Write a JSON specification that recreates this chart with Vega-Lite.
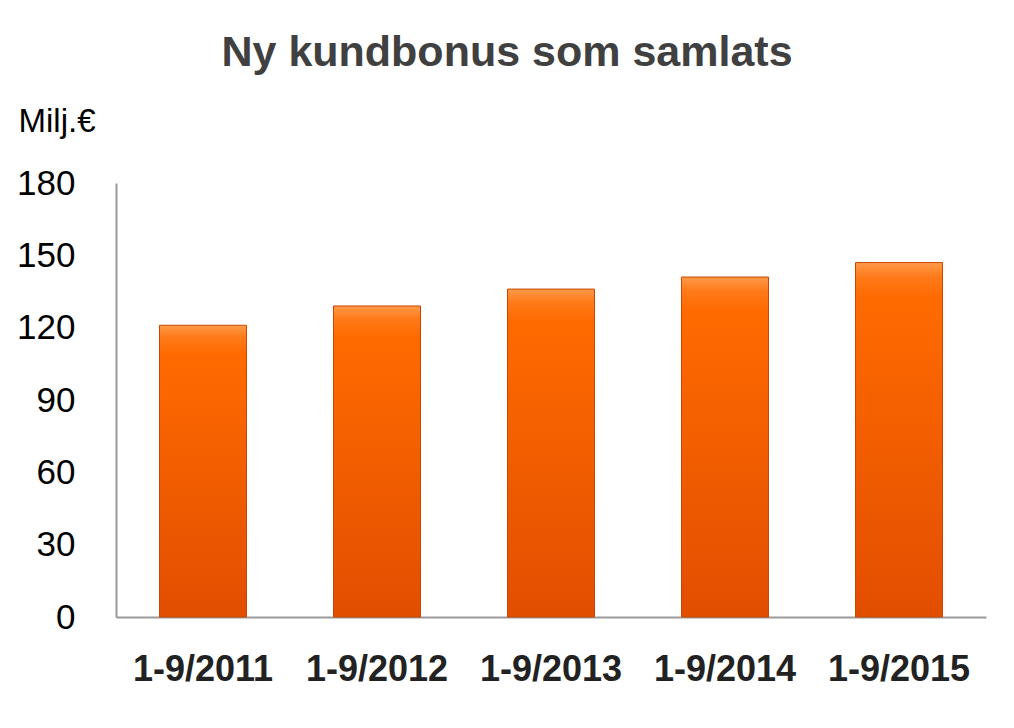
{
  "$schema": "https://vega.github.io/schema/vega-lite/v6.json",
  "autosize": {"type": "none"},
  "width": 870,
  "height": 434,
  "padding": {"left": 116, "top": 183, "right": 28, "bottom": 111},
  "background": "white",
  "title": {
    "text": "Ny kundbonus som samlats",
    "font": "Liberation Sans",
    "fontWeight": "bold",
    "fontSize": 43,
    "color": "#404040",
    "anchor": "middle",
    "dx": -44,
    "offset": 30
  },
  "data": {
    "values": [
      {"period": "1-9/2011", "value": 121},
      {"period": "1-9/2012", "value": 129},
      {"period": "1-9/2013", "value": 136},
      {"period": "1-9/2014", "value": 141},
      {"period": "1-9/2015", "value": 147}
    ]
  },
  "mark": {
    "type": "bar",
    "color": {
      "gradient": "linear",
      "x1": 0, "y1": 0, "x2": 0, "y2": 1,
      "stops": [
        {"offset": 0, "color": "#FF9A4A"},
        {"offset": 0.04, "color": "#FF7A1A"},
        {"offset": 0.1, "color": "#FF6A00"},
        {"offset": 1, "color": "#E24E00"}
      ]
    },
    "stroke": "#C84800",
    "strokeWidth": 1
  },
  "encoding": {
    "x": {
      "field": "period",
      "type": "nominal",
      "sort": null,
      "scale": {"paddingInner": 0.5, "paddingOuter": 0.25},
      "axis": {
        "title": null,
        "labelAngle": 0,
        "ticks": false,
        "domainColor": "#999999",
        "domainWidth": 2,
        "labelFont": "Liberation Sans",
        "labelFontWeight": "bold",
        "labelFontSize": 36,
        "labelColor": "#222222",
        "labelPadding": 35
      }
    },
    "y": {
      "field": "value",
      "type": "quantitative",
      "scale": {"domain": [0, 180], "nice": false},
      "axis": {
        "values": [0, 30, 60, 90, 120, 150, 180],
        "grid": false,
        "ticks": false,
        "domainColor": "#999999",
        "domainWidth": 2,
        "labelFont": "Liberation Sans",
        "labelFontSize": 35,
        "labelColor": "#000000",
        "labelPadding": 41,
        "title": "Milj.€",
        "titleFont": "Liberation Sans",
        "titleFontWeight": "normal",
        "titleFontSize": 33,
        "titleColor": "#000000",
        "titleAngle": 0,
        "titleAlign": "left",
        "titleBaseline": "alphabetic",
        "titleX": -98,
        "titleY": -52
      }
    }
  },
  "config": {"view": {"stroke": null}}
}
